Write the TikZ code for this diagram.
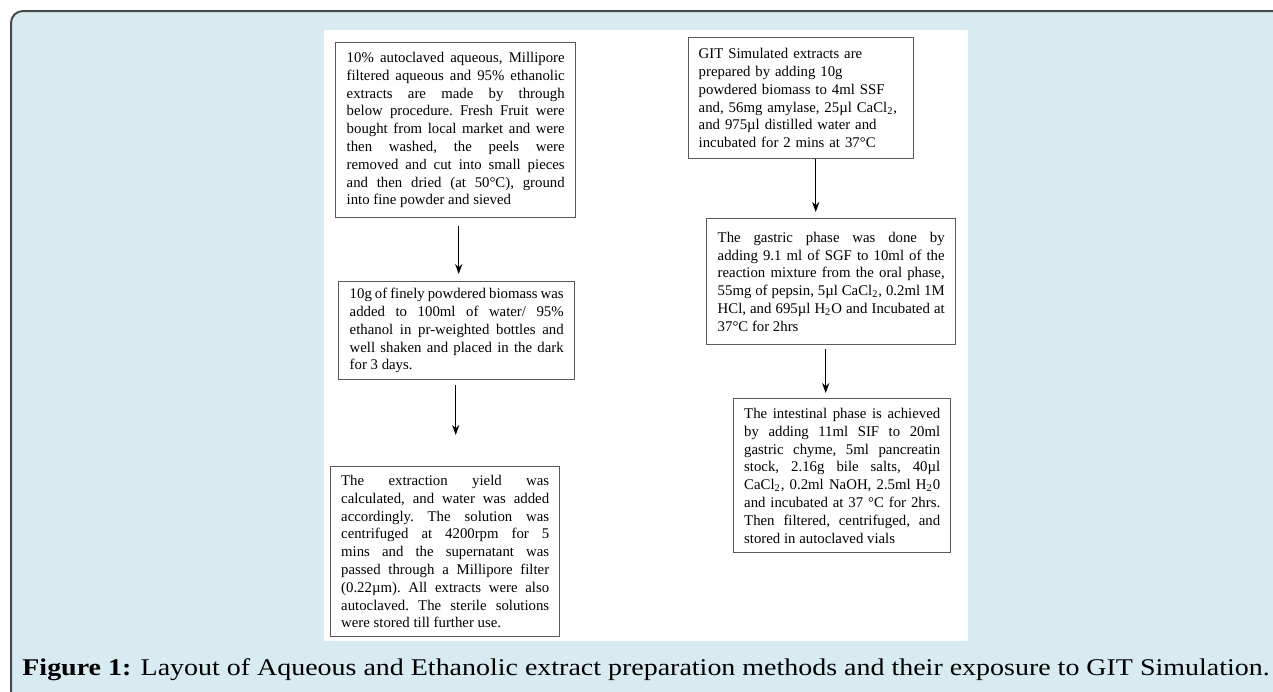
\documentclass[tikz,border=0pt]{standalone}
\usepackage{fontspec}
\setmainfont{Liberation Serif}
\usetikzlibrary{arrows.meta,positioning}
\usepackage{xcolor}
\definecolor{panel}{HTML}{D7EBF0}
\definecolor{frameline}{HTML}{4A4A4A}
\definecolor{boxline}{HTML}{5A5A5A}

\begin{document}
\begin{tikzpicture}[x=0.5pt, y=-0.5pt, >={Stealth[length=5pt, width=3.6pt]},
    stepbox/.style={draw=boxline, line width=0.7pt, anchor=north west,
        inner xsep=5.5pt, inner ysep=0pt, align=justify,
        font=\fontsize{7.4}{8.9}\selectfont\frenchspacing},
    flow/.style={->, line width=0.6pt}]
    \useasboundingbox (0,0) rectangle (1273,691);
    \clip (0,0) rectangle (1273,691);

    % Frame and panel
    \draw[frameline, line width=1pt, fill=panel, rounded corners=6pt] (11,11) rectangle (1320,740);
    \fill[white] (324,30) rectangle (968,641);

    % Extract preparation
    \node[stepbox, text width=109pt, minimum height=87.5pt] (fruit) at (335,42)
        {10\% autoclaved aqueous, Millipore\linebreak
         filtered aqueous and 95\% ethanolic\linebreak
         extracts are made by through\linebreak
         below procedure. Fresh Fruit were\linebreak
         bought from local market and were\linebreak
         then washed, the peels were\linebreak
         removed and cut into small pieces\linebreak
         and then dried (at 50°C), ground\linebreak
         into fine powder and sieved};
    \node[stepbox, text width=107pt, minimum height=49pt] (soak) at (338,281)
        {10g of finely powdered biomass was\linebreak
         added to 100ml of water/ 95\%\linebreak
         ethanol in pr-weighted bottles and\linebreak
         well shaken and placed in the dark\linebreak
         for 3 days.};
    \node[stepbox, text width=104pt, minimum height=85pt, inner xsep=5.25pt] (yield) at (330,466)
        {The extraction yield was\linebreak
         calculated, and water was added\linebreak
         accordingly. The solution was\linebreak
         centrifuged at 4200rpm for 5\linebreak
         mins and the supernatant was\linebreak
         passed through a Millipore filter\linebreak
         (0.22µm). All extracts were also\linebreak
         autoclaved. The sterile solutions\linebreak
         were stored till further use.};

    % GIT simulation
    \node[stepbox, align=left, text width=102.5pt, minimum height=60.5pt, inner xsep=5pt] (oral) at (688,37)
        {GIT Simulated extracts are\\
         prepared by adding 10g\\
         powdered biomass to 4ml SSF\\
         and, 56mg amylase, 25µl CaCl\textsubscript{2},\\
         and 975µl distilled water and\\
         incubated for 2 mins at 37°C};
    \node[stepbox, text width=113.5pt, minimum height=63pt] (gastric) at (706,218)
        {The gastric phase was done by\linebreak
         adding 9.1 ml of SGF to 10ml of the\linebreak
         reaction mixture from the oral phase,\linebreak
         55mg of pepsin, 5µl CaCl\textsubscript{2}, 0.2ml 1M\linebreak
         HCl, and 695µl H\textsubscript{2}O and Incubated at\linebreak
         37°C for 2hrs};
    \node[stepbox, text width=98pt, minimum height=77pt, inner xsep=5.25pt] (intestinal) at (733,398)
        {The intestinal phase is achieved\linebreak
         by adding 11ml SIF to 20ml\linebreak
         gastric chyme, 5ml pancreatin\linebreak
         stock, 2.16g bile salts, 40µl\linebreak
         CaCl\textsubscript{2}, 0.2ml NaOH, 2.5ml H\textsubscript{2}0\linebreak
         and incubated at 37 °C for 2hrs.\linebreak
         Then filtered, centrifuged, and\linebreak
         stored in autoclaved vials};

    % Arrows
    \draw[flow, shorten <=4pt, shorten >=3.5pt] ([xshift=1.5pt]fruit.south) -- ([xshift=1.5pt]fruit.south |- soak.north);
    \draw[flow, shorten <=2.5pt, shorten >=15.5pt] ([xshift=-0.5pt]soak.south) -- ([xshift=-0.5pt]soak.south |- yield.north);
    \draw[flow, shorten >=3pt] ([xshift=7.25pt]oral.south) -- ([xshift=7.25pt]oral.south |- gastric.north);
    \draw[flow, shorten <=2pt, shorten >=2.5pt] ([xshift=-2.75pt]gastric.south) -- ([xshift=-2.75pt]gastric.south |- intestinal.north);

    % Caption
    \node[anchor=base west, inner sep=0pt, font=\fontsize{12}{15}\selectfont] (caption) at (22,675)
        {\scalebox{1.165}[1]{\textbf{Figure 1:} Layout of Aqueous and Ethanolic extract preparation methods and their exposure to GIT Simulation.}};
\end{tikzpicture}
\end{document}
